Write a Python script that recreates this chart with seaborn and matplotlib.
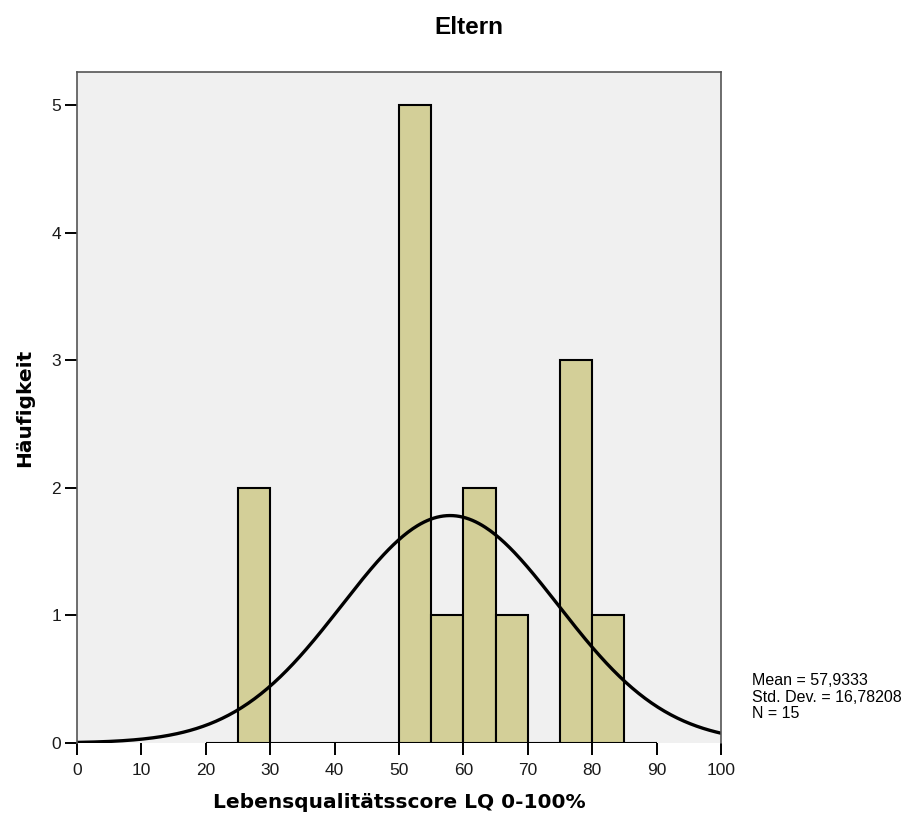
import matplotlib
matplotlib.use("Agg")
import matplotlib.pyplot as plt
import numpy as np
import seaborn as sns

sns.set_style("ticks")
plt.rcParams['font.family'] = ['Liberation Sans', 'DejaVu Sans']
plt.rcParams['text.color'] = 'black'
plt.rcParams['axes.labelcolor'] = 'black'

# --- histogram data (bin width 5, 20..90) ---
bin_edges = [20, 25, 30, 35, 40, 45, 50, 55, 60, 65, 70, 75, 80, 85, 90]
bin_counts = [0, 2, 0, 0, 0, 0, 5, 1, 2, 1, 0, 3, 1, 0]
mean_val = 57.9333
std_val = 16.78208
n_val = 15
x_ticks = [0, 10, 20, 30, 40, 50, 60, 70, 80, 90, 100]
y_ticks = [0, 1, 2, 3, 4, 5]

bin_centers = [(a + b) / 2 for a, b in zip(bin_edges[:-1], bin_edges[1:])]
bin_width = bin_edges[1] - bin_edges[0]

fig = plt.figure(figsize=(9.13, 8.14), dpi=100)
ax = fig.add_axes([0.0843, 0.0872, 0.7054, 0.8244])
ax.set_facecolor('#F0F0F0')

sns.histplot(x=bin_centers, weights=bin_counts, bins=bin_edges, ax=ax,
             color='#D3CF98', alpha=1, edgecolor='black', linewidth=1.5)

# fitted normal curve, scaled to counts
xs = np.linspace(0, 100, 400)
ys = n_val * bin_width * np.exp(-0.5 * ((xs - mean_val) / std_val) ** 2) / (std_val * np.sqrt(2 * np.pi))
sns.lineplot(x=xs, y=ys, ax=ax, color='black', linewidth=2.4)

ax.set_xlim(0, 100)
ax.set_ylim(0, 5.26)
ax.set_xticks(x_ticks)
ax.set_yticks(y_ticks)
ax.tick_params(axis='both', direction='out', length=8.5, width=1.4, color='black',
               labelsize=12.5, labelcolor='#1a1a1a', bottom=True, left=True)
ax.tick_params(axis='x', pad=6)
ax.tick_params(axis='y', pad=3)
for s in ax.spines.values():
    s.set_color('#555555')
    s.set_linewidth(1.2)
ax.spines['bottom'].set_visible(False)

ax.set_xlabel('Lebensqualitätsscore LQ 0-100%', fontsize=14.5, fontweight='bold',
              family='DejaVu Sans', labelpad=11)
ax.set_ylabel('Häufigkeit', fontsize=14.5, fontweight='bold', family='DejaVu Sans', labelpad=12)
fig.text(469 / 913, 1 - 27 / 814, 'Eltern', ha='center', va='center', fontsize=17.5, fontweight='bold')

stats = f"Mean = 57,9333\nStd. Dev. = 16,78208\nN = {n_val}"
fig.text(752 / 913, 1 - 697 / 814, stats, ha='left', va='center', fontsize=11.5, linespacing=1.1)

plt.savefig('out.png', dpi=100)
plt.close()
